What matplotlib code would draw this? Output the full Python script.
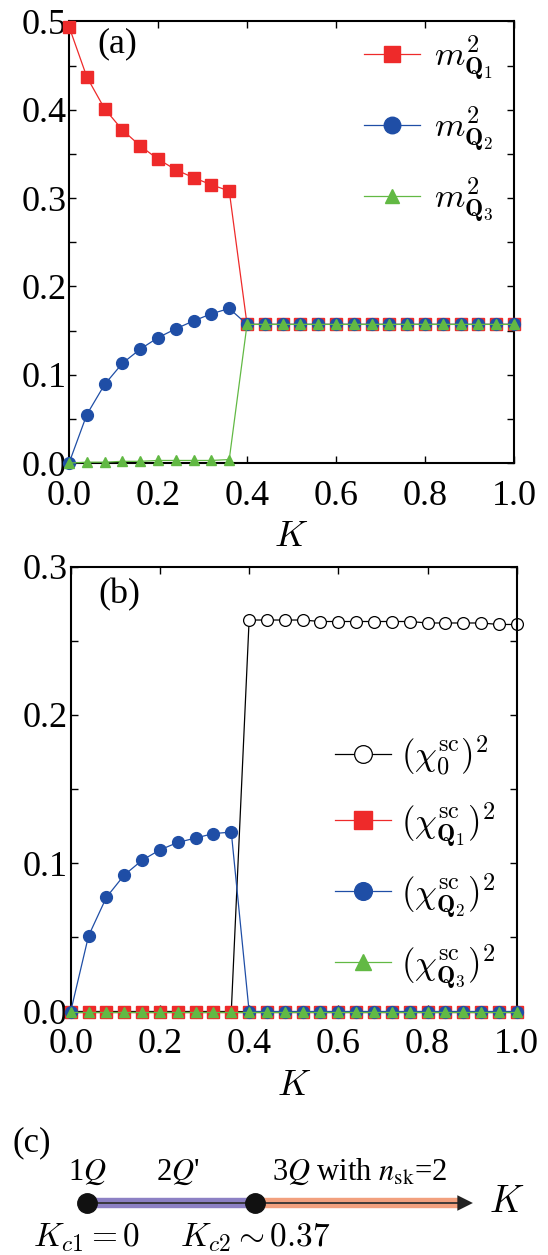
import numpy as np
import matplotlib
matplotlib.use("Agg")
import matplotlib.pyplot as plt
from matplotlib.ticker import MultipleLocator, FuncFormatter

plt.rcParams['font.family'] = ['Liberation Serif', 'DejaVu Serif']
plt.rcParams['mathtext.fontset'] = 'cm'

# データ
K = np.round(np.arange(26) * 0.04, 2)

m2_Q1 = [0.494, 0.437, 0.401, 0.377, 0.359, 0.344, 0.332, 0.323, 0.315, 0.308,
         0.157, 0.157, 0.157, 0.157, 0.157, 0.157, 0.157, 0.157, 0.157, 0.157,
         0.157, 0.157, 0.157, 0.157, 0.157, 0.157]
m2_Q2 = [0.0, 0.055, 0.089, 0.113, 0.129, 0.142, 0.152, 0.161, 0.169, 0.175,
         0.157, 0.157, 0.157, 0.157, 0.157, 0.157, 0.157, 0.157, 0.157, 0.157,
         0.157, 0.157, 0.157, 0.157, 0.157, 0.157]
m2_Q3 = [0.0, 0.001, 0.001, 0.002, 0.002, 0.003, 0.003, 0.003, 0.003, 0.004,
         0.157, 0.157, 0.157, 0.157, 0.157, 0.157, 0.157, 0.157, 0.157, 0.157,
         0.157, 0.157, 0.157, 0.157, 0.157, 0.157]

chi2_0 = [0.0, 0.0, 0.0, 0.0, 0.0, 0.0, 0.0, 0.0, 0.0, 0.0,
          0.264, 0.264, 0.264, 0.264, 0.263, 0.263, 0.263, 0.263, 0.263, 0.263,
          0.262, 0.262, 0.262, 0.262, 0.261, 0.261]
chi2_Q1 = [0.0] * 26
chi2_Q2 = [0.0, 0.051, 0.077, 0.092, 0.102, 0.109, 0.114, 0.117, 0.120, 0.121,
           0.0, 0.0, 0.0, 0.0, 0.0, 0.0, 0.0, 0.0, 0.0, 0.0,
           0.0, 0.0, 0.0, 0.0, 0.0, 0.0]
chi2_Q3 = [0.0] * 26

# (c) 相図
Kc = [0.0, 0.37]
K_arrow_end = 0.85
phase_labels = [r'1$Q$', r"2$Q$'", r'3$Q$ with $n_{\rm sk}$=2']
phase_label_K = [0.0, 0.20, 0.60]
Kc_labels = [r'$K_{c1}=0$', r'$K_{c2}\sim 0.37$']

RED = '#ee2a2a'
BLUE = '#1f4ea6'
GREEN = '#62b944'

fig = plt.figure(figsize=(5.48, 12.55), dpi=100)

ms = 8.5
fs = 26
lfs = 25


def style_axis(ax, ymax):
    ax.set_xlim(0, 1)
    ax.set_ylim(0, ymax)
    ax.xaxis.set_major_locator(MultipleLocator(0.2))
    ax.yaxis.set_major_locator(MultipleLocator(0.05))
    ax.yaxis.set_major_formatter(FuncFormatter(
        lambda v, p: ('%.1f' % v) if abs(round(v / 0.1) * 0.1 - v) < 1e-6 else ''))
    ax.xaxis.set_major_formatter(FuncFormatter(lambda v, p: '%.1f' % v))
    ax.tick_params(direction='in', top=True, right=True, length=5, width=1,
                   labelsize=fs)
    ax.tick_params(axis='x', pad=12)
    ax.tick_params(axis='y', pad=2)
    for s in ax.spines.values():
        s.set_linewidth(1.5)
    ax.set_xlabel('$K$', fontsize=fs, labelpad=6)


# (a)
ax1 = fig.add_axes([0.126, 0.631, 0.812, 0.352])
ax1.plot(K, m2_Q1, '-s', color=RED, lw=0.9, ms=ms, clip_on=False,
         label=r'$m^2_{\mathbf{Q}_1}$', zorder=3)
ax1.plot(K, m2_Q2, '-o', color=BLUE, lw=0.9, ms=ms, clip_on=False,
         label=r'$m^2_{\mathbf{Q}_2}$', zorder=4)
ax1.plot(K, m2_Q3, '-^', color=GREEN, lw=0.9, ms=ms * 0.85, clip_on=False,
         label=r'$m^2_{\mathbf{Q}_3}$', zorder=5)
style_axis(ax1, 0.5)
ax1.text(0.063, 0.95, '(a)', transform=ax1.transAxes, fontsize=fs, va='center')
ax1.legend(loc='upper right', bbox_to_anchor=(1.0, 1.02), frameon=False,
           fontsize=lfs, markerscale=1.4, handlelength=1.6, handletextpad=0.4,
           labelspacing=0.65, borderaxespad=0.2)

# (b)
ax2 = fig.add_axes([0.129, 0.194, 0.814, 0.3545])
ax2.plot(K, chi2_0, '-o', color='k', mfc='white', mec='k', mew=0.9, lw=0.9,
         ms=ms, clip_on=False, label=r'$(\chi^{\rm sc}_{\mathbf{0}})^2$', zorder=2)
ax2.plot(K, chi2_Q1, '-s', color=RED, lw=0.9, ms=ms, clip_on=False,
         label=r'$(\chi^{\rm sc}_{\mathbf{Q}_1})^2$', zorder=3)
ax2.plot(K, chi2_Q2, '-o', color=BLUE, lw=0.9, ms=ms, clip_on=False,
         label=r'$(\chi^{\rm sc}_{\mathbf{Q}_2})^2$', zorder=4)
ax2.plot(K, chi2_Q3, '-^', color=GREEN, lw=0.9, ms=ms * 0.85, clip_on=False,
         label=r'$(\chi^{\rm sc}_{\mathbf{Q}_3})^2$', zorder=5)
style_axis(ax2, 0.3)
ax2.text(0.063, 0.936, '(b)', transform=ax2.transAxes, fontsize=fs, va='center')
ax2.legend(loc='lower right', bbox_to_anchor=(1.0, 0.0), frameon=False,
           fontsize=lfs, markerscale=1.5, handlelength=1.6, handletextpad=0.3,
           labelspacing=0.65, borderaxespad=0.2)

# (c)
ax3 = fig.add_axes([0, 0, 1, 0.12])
ax3.set_xlim(-87 / 454, (548 - 87) / 454)
ax3.set_ylim(0, 150.6)
ax3.axis('off')
y0 = 52
ax3.plot([Kc[0], Kc[1]], [y0, y0], color='#8c80c4', lw=7.5, solid_capstyle='butt')
ax3.plot([Kc[1], K_arrow_end - 0.03], [y0, y0], color='#f2a07e', lw=7.5,
         solid_capstyle='butt')
ax3.plot([Kc[0], K_arrow_end - 0.03], [y0, y0], color='#333333', lw=1.3)
ax3.annotate('', xy=(K_arrow_end, y0), xytext=(K_arrow_end - 0.04, y0),
             arrowprops=dict(arrowstyle='-|>', color='#222222', lw=0,
                             mutation_scale=28, shrinkA=0, shrinkB=0))
ax3.plot(Kc, [y0, y0], 'o', color='#111111', ms=14, zorder=5)
ax3.text(K_arrow_end + 0.075, y0, '$K$', fontsize=27, va='center', ha='center')
ax3.text(-0.165, 112, '(c)', fontsize=25, va='center', ha='left')
for kx, lab in zip(phase_label_K, phase_labels):
    ax3.text(kx, 83, lab, fontsize=22, va='center', ha='center', math_fontfamily='stix')
for kx, lab in zip(Kc, Kc_labels):
    ax3.text(kx, 17, lab, fontsize=24, va='center', ha='center')

fig.savefig('out.png', dpi=100)
